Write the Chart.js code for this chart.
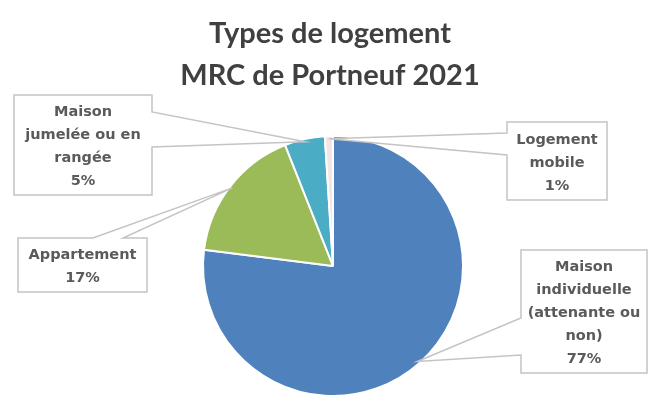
<!DOCTYPE html>
<html>
<head>
<meta charset="utf-8">
<script src="https://cdn.jsdelivr.net/npm/chart.js@4.4.1/dist/chart.umd.min.js"></script>
<style>
  html, body { margin: 0; padding: 0; background: #ffffff; }
  #wrap { width: 649px; height: 400px; }
</style>
</head>
<body>
<div id="wrap"><canvas id="myChart" width="649" height="400"></canvas></div>
<script>
// Data
const titleLines = ['Types de logement', 'MRC de Portneuf 2021'];
const categories = ['Maison individuelle (attenante ou non)', 'Appartement', 'Maison jumelée ou en rangée', 'Logement mobile'];
const shares = [77, 17, 5, 1];
const nameLines = [
    ['Maison', 'individuelle', '(attenante ou', 'non)'],
    ['Appartement'],
    ['Maison', 'jumelée ou en', 'rangée'],
    ['Logement', 'mobile']
];
const sliceColors = ['#4f81bd', '#9bbb59', '#4bacc6', '#f5e4e4'];

// Callout boxes (x0, y0, x1, y1), the side the pointer leaves from and where it joins the box
const callouts = [
    { box: [521, 250, 647, 373], side: 'left', attach: [318, 355] },
    { box: [18, 238, 147, 292], side: 'top', attach: [93, 123] },
    { box: [14, 95, 152, 195], side: 'right', attach: [112, 147] },
    { box: [507, 122, 607, 200], side: 'left', attach: [133, 155] }
];

const calloutPlugin = {
    id: 'callouts',
    afterDatasetsDraw(chart) {
        const ctx = chart.ctx;
        const arcs = chart.getDatasetMeta(0).data;

        // title
        ctx.save();
        ctx.fillStyle = '#404040';
        ctx.font = 'bold 29px Lato';
        ctx.textAlign = 'center';
        ctx.textBaseline = 'alphabetic';
        ctx.fillText(titleLines[0], 330, 43);
        ctx.fillText(titleLines[1], 330, 85);
        ctx.restore();

        arcs.forEach((arc, i) => {
            const p = arc.getProps(['x', 'y', 'startAngle', 'endAngle', 'outerRadius'], true);
            const mid = (p.startAngle + p.endAngle) / 2;
            const tx = p.x + Math.cos(mid) * p.outerRadius * 0.98;
            const ty = p.y + Math.sin(mid) * p.outerRadius * 0.98;
            const c = callouts[i];
            const [x0, y0, x1, y1] = c.box;
            const [a1, a2] = c.attach;

            ctx.save();
            ctx.beginPath();
            if (c.side === 'left') {
                ctx.moveTo(x0, y0);
                ctx.lineTo(x1, y0);
                ctx.lineTo(x1, y1);
                ctx.lineTo(x0, y1);
                ctx.lineTo(x0, a2);
                ctx.lineTo(tx, ty);
                ctx.lineTo(x0, a1);
            } else if (c.side === 'right') {
                ctx.moveTo(x0, y0);
                ctx.lineTo(x1, y0);
                ctx.lineTo(x1, a1);
                ctx.lineTo(tx, ty);
                ctx.lineTo(x1, a2);
                ctx.lineTo(x1, y1);
                ctx.lineTo(x0, y1);
            } else {
                ctx.moveTo(x0, y0);
                ctx.lineTo(a1, y0);
                ctx.lineTo(tx, ty);
                ctx.lineTo(a2, y0);
                ctx.lineTo(x1, y0);
                ctx.lineTo(x1, y1);
                ctx.lineTo(x0, y1);
            }
            ctx.closePath();
            ctx.fillStyle = '#ffffff';
            ctx.fill();
            ctx.strokeStyle = '#c4c4c4';
            ctx.lineWidth = 1.5;
            ctx.stroke();

            // text
            const lines = nameLines[i].concat([shares[i] + '%']);
            const lineH = 23;
            const cx = (x0 + x1) / 2;
            const cy = (y0 + y1) / 2 + 2;
            ctx.fillStyle = '#5a5a5a';
            ctx.font = 'bold 14.5px "DejaVu Sans"';
            ctx.textAlign = 'center';
            ctx.textBaseline = 'middle';
            lines.forEach((t, k) => {
                ctx.fillText(t, cx, cy + (k - (lines.length - 1) / 2) * lineH);
            });
            ctx.restore();
        });
    }
};

const ctx = document.getElementById('myChart').getContext('2d');
new Chart(ctx, {
    type: 'pie',
    data: {
        labels: categories,
        datasets: [{
            data: shares,
            backgroundColor: sliceColors,
            borderColor: '#ffffff',
            borderWidth: 2
        }]
    },
    options: {
        responsive: false,
        animation: false,
        layout: {
            padding: { left: 202, right: 185, top: 135, bottom: 3 }
        },
        plugins: {
            legend: { display: false },
            tooltip: { enabled: false }
        }
    },
    plugins: [calloutPlugin]
});
</script>
</body>
</html>
